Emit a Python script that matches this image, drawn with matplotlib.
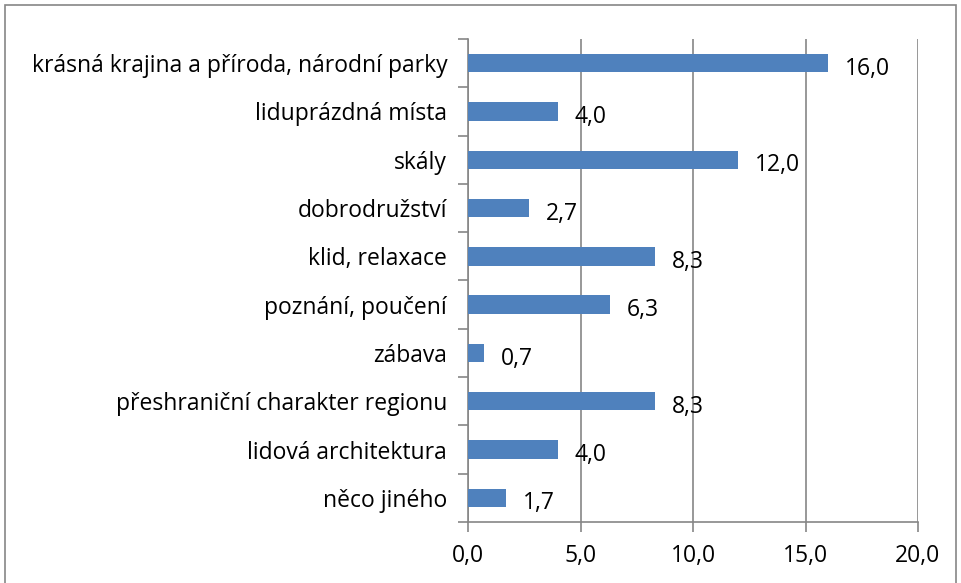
import matplotlib.pyplot as plt
from matplotlib.patches import Rectangle

categories = [
    "krásná krajina a příroda, národní parky",
    "liduprázdná místa",
    "skály",
    "dobrodružství",
    "klid, relaxace",
    "poznání, poučení",
    "zábava",
    "přeshraniční charakter regionu",
    "lidová architektura",
    "něco jiného",
]
values = [16.0, 4.0, 12.0, 2.7, 8.3, 6.3, 0.7, 8.3, 4.0, 1.7]
xticks = [0, 5, 10, 15, 20]

plt.rcParams["font.family"] = ["Open Sans", "DejaVu Sans"]
fs = 16.5

fig = plt.figure(figsize=(9.62, 5.83), dpi=100)
ax = fig.add_axes([468 / 962, 1 - 522 / 583, 450 / 962, 483 / 583])

gray = "#868686"
n = len(categories)
ypos = list(range(n))[::-1]
ax.barh(ypos, values, height=0.38, color="#4F81BD", zorder=3)

for y, v in zip(ypos, values):
    ax.annotate(f"{v:.1f}".replace(".", ","), (v, y), xytext=(12, -4),
                textcoords="offset points", va="center", ha="left",
                fontsize=fs, color="black", zorder=4)

ax.set_xlim(0, 20)
ax.set_ylim(-0.5, n - 0.5)
ax.set_xticks(xticks)
ax.set_xticklabels([f"{t:.1f}".replace(".", ",") for t in xticks], fontsize=fs)
ax.set_yticks(ypos)
ax.set_yticklabels(categories, fontsize=fs)
ax.set_yticks([i - 0.5 for i in range(n + 1)], minor=True)

ax.grid(axis="x", color=gray, linewidth=1.2, zorder=0)
for s in ["top", "right"]:
    ax.spines[s].set_visible(False)
for s in ["left", "bottom"]:
    ax.spines[s].set_color(gray)
    ax.spines[s].set_linewidth(1.2)

ax.tick_params(axis="y", which="major", length=0, pad=15)
ax.tick_params(axis="y", which="minor", length=7, color=gray, width=1.2)
ax.tick_params(axis="x", length=7, color=gray, width=1.2, pad=9)

fig.patches.append(Rectangle((5 / 962, -0.01), 951 / 962, 1 - 5 / 583 + 0.01,
                             transform=fig.transFigure, fill=False,
                             edgecolor=gray, linewidth=1.2))

fig.savefig("out.png", dpi=100)
